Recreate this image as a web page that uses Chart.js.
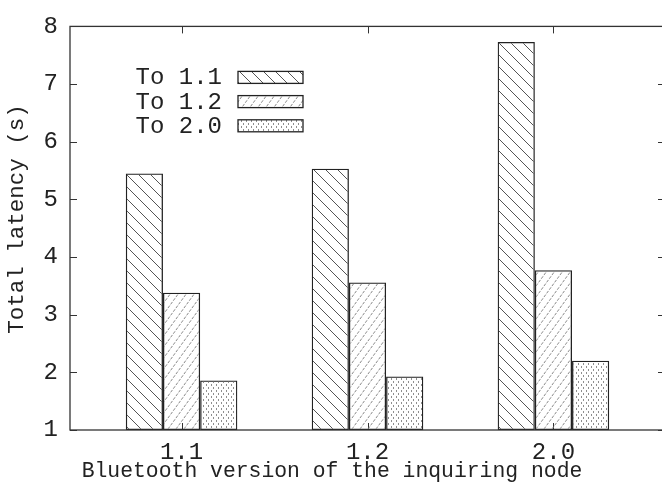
<!DOCTYPE html>
<html>
<head>
<meta charset="utf-8">
<title>Total latency by Bluetooth version</title>
<script src="https://cdn.jsdelivr.net/npm/chart.js@4.4.1/dist/chart.umd.min.js"></script>
<style>
  html, body { margin: 0; padding: 0; background: #fff; overflow: hidden; }
  #wrap { width: 668px; height: 493px; }
</style>
</head>
<body>
<div id="wrap"><canvas id="latencyChart" width="668" height="493"></canvas></div>
<script>
// inquiring node version on the x axis, one bar per target version
var versions = ["1.1", "1.2", "2.0"];
var seriesNames = ["To 1.1", "To 1.2", "To 2.0"];
var to11 = [5.45, 5.53, 7.73];
var to12 = [3.38, 3.56, 3.77];
var to20 = [1.86, 1.93, 2.20];
var yTicks = [1, 2, 3, 4, 5, 6, 7, 8];
var xTitle = "Bluetooth version of the inquiring node";
var yTitle = "Total latency (s)";

var FONT = "'Liberation Mono', 'Courier New', monospace";
var INK = "#222";

// small tiles used as fill patterns, gnuplot style
function makePattern(kind) {
  var c = document.createElement("canvas");
  var g = c.getContext("2d");
  if (kind === "back") {
    c.width = 12; c.height = 12;
    g.strokeStyle = "#555"; g.lineWidth = 1;
    g.beginPath();
    [-12, 0, 12].forEach(function (o) { g.moveTo(o, 0); g.lineTo(o + 12, 12); });
    g.stroke();
  } else if (kind === "fwd") {
    c.width = 8; c.height = 11;
    g.strokeStyle = "#8a8a8a"; g.lineWidth = 1;
    g.setLineDash([3, 1.5]);
    g.beginPath();
    [-8, 0, 8].forEach(function (o) { g.moveTo(o, 11); g.lineTo(o + 8, 0); });
    g.stroke();
  } else {
    c.width = 5; c.height = 6;
    g.fillStyle = "#8f8f8f";
    g.fillRect(1, 0, 1, 2);
    g.fillRect(3, 3, 1, 2);
  }
  return g.createPattern(c, "repeat");
}

var fills = [makePattern("back"), makePattern("fwd"), makePattern("dots")];
var seriesValues = [to11, to12, to20];

var datasets = seriesNames.map(function (name, k) {
  return {
    label: name,
    data: seriesValues[k].map(function (v, i) { return { x: i + 1, y: v }; }),
    backgroundColor: fills[k],
    borderColor: INK,
    borderWidth: 1.3,
    borderSkipped: false,
    base: 1,
    categoryPercentage: 0.6,
    barPercentage: 1.0
  };
});

// frame, inward tick marks, axis titles and the boxed key inside the plot
var framePlugin = {
  id: "frame",
  beforeDatasetsDraw: function (chart) {
    var a = chart.chartArea, ctx = chart.ctx, xs = chart.scales.x;
    ctx.save();
    ctx.strokeStyle = "#333"; ctx.lineWidth = 1;
    ctx.beginPath();
    versions.forEach(function (v, i) {
      var px = Math.round(xs.getPixelForValue(i + 1)) + 0.5;
      ctx.moveTo(px, a.bottom); ctx.lineTo(px, a.bottom - 7);
    });
    ctx.stroke();
    ctx.restore();
  },
  afterDatasetsDraw: function (chart) {
    var a = chart.chartArea, ctx = chart.ctx;
    var xs = chart.scales.x, ys = chart.scales.y;
    ctx.save();
    ctx.strokeStyle = "#333"; ctx.lineWidth = 1;
    ctx.beginPath();
    yTicks.forEach(function (t) {
      var py = Math.round(ys.getPixelForValue(t)) + 0.5;
      ctx.moveTo(a.left, py); ctx.lineTo(a.left + 7, py);
      ctx.moveTo(a.right, py); ctx.lineTo(a.right - 7, py);
    });
    versions.forEach(function (v, i) {
      var px = Math.round(xs.getPixelForValue(i + 1)) + 0.5;
      ctx.moveTo(px, a.top); ctx.lineTo(px, a.top + 7);
    });
    ctx.stroke();
    ctx.lineWidth = 1.3;
    ctx.strokeRect(a.left, a.top, a.right - a.left, a.bottom - a.top);

    // key
    ctx.font = "24px " + FONT;
    ctx.textAlign = "right";
    ctx.textBaseline = "alphabetic";
    chart.data.datasets.forEach(function (ds, k) {
      var cy = a.top + 51 + k * 24.2;
      var bx = a.left + 168;
      ctx.fillStyle = ds.backgroundColor;
      ctx.fillRect(bx, cy - 6, 65, 12);
      ctx.strokeStyle = INK; ctx.lineWidth = 1.3;
      ctx.strokeRect(bx, cy - 6, 65, 12);
      ctx.fillStyle = INK;
      ctx.fillText(ds.label, bx - 16, cy + 7);
    });

    // axis titles
    ctx.fillStyle = INK;
    ctx.textAlign = "center";
    ctx.textBaseline = "middle";
    ctx.font = "21.4px " + FONT;
    ctx.fillText(xTitle, 332, 471);
    ctx.translate(17, 219);
    ctx.rotate(-Math.PI / 2);
    ctx.font = "22.5px " + FONT;
    ctx.fillText(yTitle, 0, 0);
    ctx.restore();
  }
};

new Chart(document.getElementById("latencyChart").getContext("2d"), {
  type: "bar",
  data: { datasets: datasets },
  options: {
    responsive: false,
    animation: false,
    devicePixelRatio: 1,
    layout: { padding: { top: 18, right: 3, left: 0, bottom: 0 } },
    plugins: { legend: { display: false }, tooltip: { enabled: false } },
    scales: {
      x: {
        type: "linear",
        offset: false,
        min: 0.4,
        max: 3.6,
        grid: { display: false, drawTicks: false },
        border: { display: false },
        afterBuildTicks: function (scale) {
          scale.ticks = versions.map(function (v, i) { return { value: i + 1 }; });
        },
        afterFit: function (scale) { scale.height = 63; },
        ticks: {
          autoSkip: false,
          maxRotation: 0,
          padding: 8,
          color: INK,
          font: { family: FONT, size: 24 },
          callback: function (value) { return versions[value - 1]; }
        }
      },
      y: {
        min: 1,
        max: 8,
        grid: { display: false, drawTicks: false },
        border: { display: false },
        afterFit: function (scale) { scale.width = 70; },
        ticks: {
          stepSize: 1,
          padding: 12,
          color: INK,
          font: { family: FONT, size: 24 }
        }
      }
    }
  },
  plugins: [framePlugin]
});
</script>
</body>
</html>
